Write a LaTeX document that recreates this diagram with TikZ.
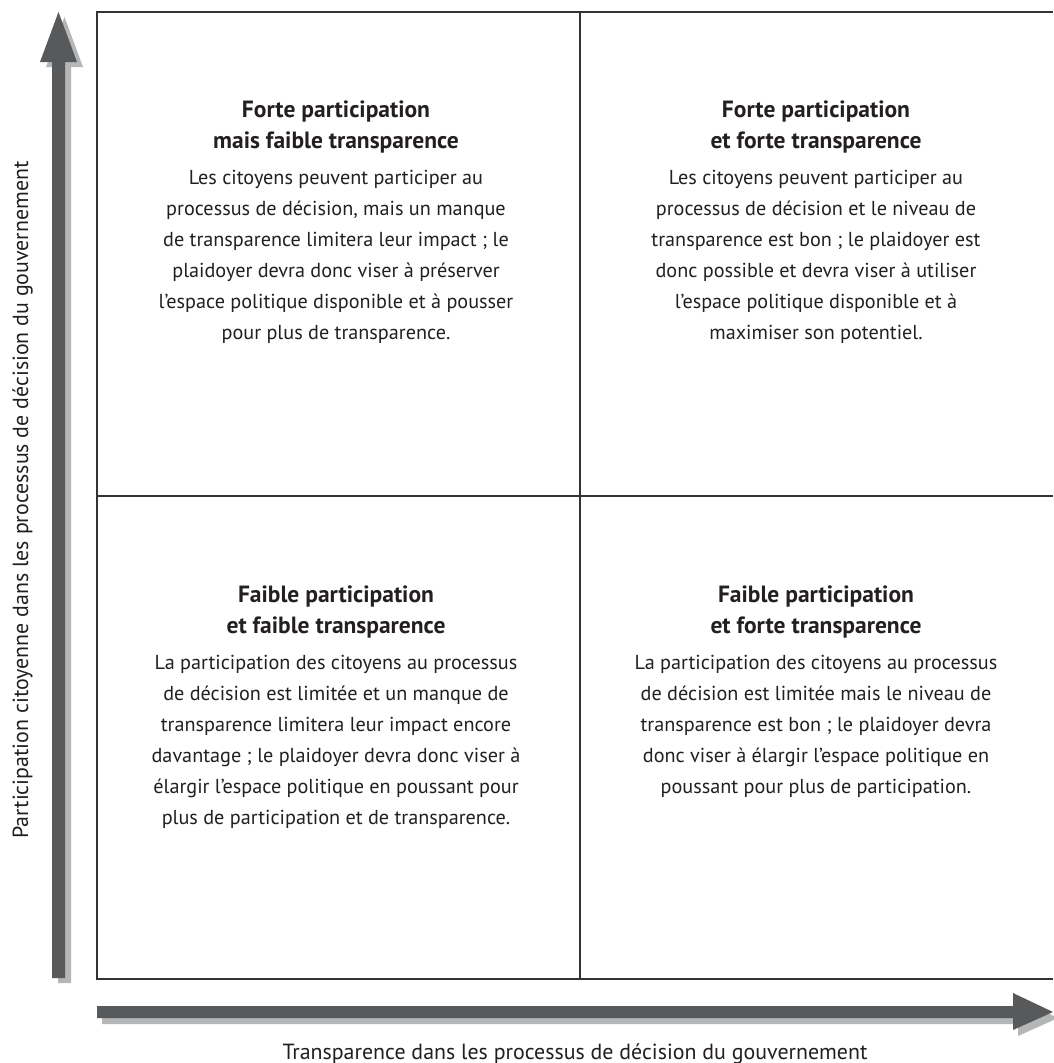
\documentclass[tikz,border=0pt]{standalone}
\usepackage{fontspec}
\setmainfont{PT Sans}
\definecolor{arrowgray}{HTML}{58595B}
\definecolor{shadowgray}{HTML}{B5B6B8}
\definecolor{linegray}{HTML}{333333}
\definecolor{textgray}{HTML}{231F20}
\begin{document}
\begin{tikzpicture}[x=1pt,y=-1pt,
  gridline/.style={draw=linegray,line width=1.3pt},
  arrowbody/.style={fill=arrowgray,draw=none},
  arrowshadow/.style={fill=shadowgray,draw=none},
  titletext/.style={anchor=north,inner sep=0pt,align=center,text=textgray,
    font=\fontsize{23.5}{31}\selectfont\bfseries},
  bodytext/.style={anchor=north,inner sep=0pt,align=center,text=textgray,
    font=\fontsize{20.2}{31}\selectfont},
  axistext/.style={anchor=base,inner sep=0pt,text=textgray,
    font=\fontsize{21.9}{26}\selectfont}]
\useasboundingbox (0,0) rectangle (1053,1063);
\fill[white] (0,0) rectangle (1053,1063);

% grid coordinates
\coordinate (tl) at (97,12);
\coordinate (tr) at (1053,12);
\coordinate (bl) at (97,979);
\coordinate (br) at (1053,979);
\coordinate (mt) at (580,12);
\coordinate (mb) at (580,979);
\coordinate (ml) at (97,496);
\coordinate (mr) at (1053,496);

% vertical arrow (shadow then body)
\fill[arrowshadow] (58,983) -- (58,67) -- (46,67) -- (64.5,17) -- (83,67) -- (71,67) -- (71,983) -- cycle;
\fill[arrowbody] (52,978) -- (52,62) -- (40,62) -- (58.5,12) -- (77,62) -- (65,62) -- (65,978) -- cycle;

% horizontal arrow
\fill[arrowshadow] (102,1012) -- (1018,1012) -- (1018,999) -- (1058,1018) -- (1018,1036) -- (1018,1024) -- (102,1024) -- cycle;
\fill[arrowbody] (97,1006) -- (1013,1006) -- (1013,993) -- (1053,1012) -- (1013,1030) -- (1013,1018) -- (97,1018) -- cycle;

% grid
\draw[gridline] (tr) -- (tl) -- (bl) -- (br);
\draw[gridline] (mt) -- (mb);
\draw[gridline] (ml) -- (mr);

% quadrant texts
\node[titletext] (t1) at (336,101) {Forte participation\\mais faible transparence};
\node[bodytext] (b1) at (336,170) {Les citoyens peuvent participer au\\processus de décision, mais un manque\\de transparence limitera leur impact ; le\\plaidoyer devra donc viser à préserver\\l’espace politique disponible et à pousser\\pour plus de transparence.};

\node[titletext] (t2) at (816,101) {Forte participation\\et forte transparence};
\node[bodytext] (b2) at (816,170) {Les citoyens peuvent participer au\\processus de décision et le niveau de\\transparence est bon ; le plaidoyer est\\donc possible et devra viser à utiliser\\l’espace politique disponible et à\\maximiser son potentiel.};

\node[titletext] (t3) at (336,586) {Faible participation\\et faible transparence};
\node[bodytext] (b3) at (336,655) {La participation des citoyens au processus\\de décision est limitée et un manque de\\transparence limitera leur impact encore\\davantage ; le plaidoyer devra donc viser à\\élargir l’espace politique en poussant pour\\plus de participation et de transparence.};

\node[titletext] (t4) at (816,586) {Faible participation\\et forte transparence};
\node[bodytext] (b4) at (816,655) {La participation des citoyens au processus\\de décision est limitée mais le niveau de\\transparence est bon ; le plaidoyer devra\\donc viser à élargir l’espace politique en\\poussant pour plus de participation.};

% axis labels
\node[axistext,rotate=90] (ylab) at (28,500) {Participation citoyenne dans les processus de décision du gouvernement};
\node[axistext] (xlab) at (575,1059) {Transparence dans les processus de décision du gouvernement};
\end{tikzpicture}
\end{document}
